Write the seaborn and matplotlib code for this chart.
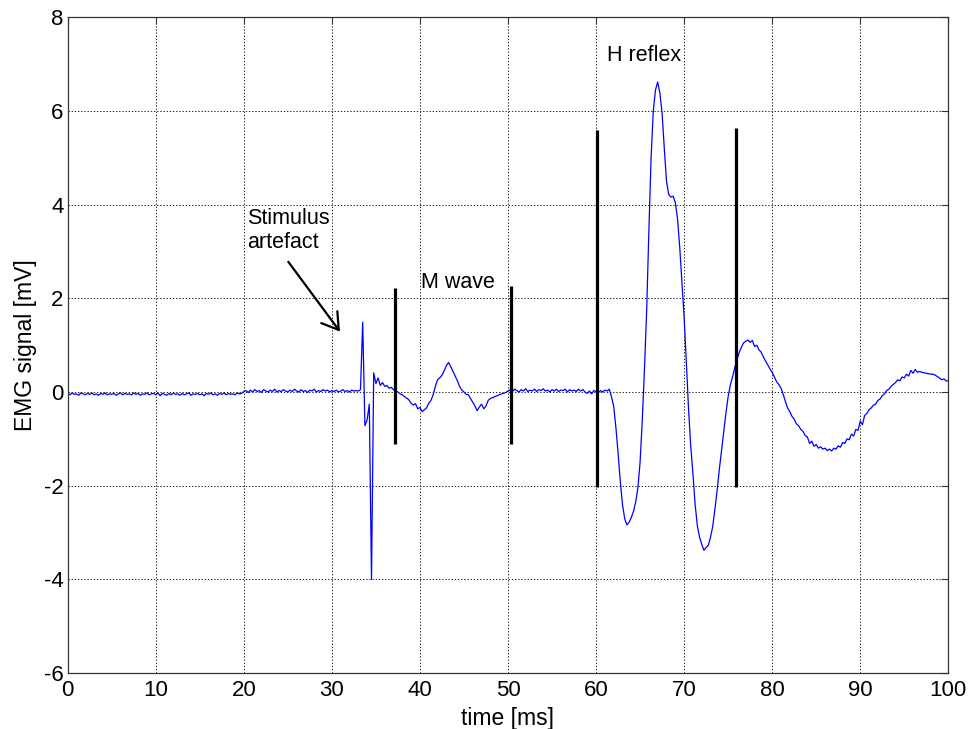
import numpy as np
import pandas as pd
import matplotlib
matplotlib.use("Agg")
import matplotlib.pyplot as plt
import seaborn as sns

emg_baseline_pre = [
    -0.03, -0.06, -0.02, -0.05, -0.04, -0.07, -0.02, -0.04, -0.06, -0.03, -0.05, -0.02, -0.06, -0.04, -0.07, -0.03, -0.05, -0.02, -0.06, -0.04,
    -0.05, -0.03, -0.07, -0.04, -0.02, -0.06, -0.03, -0.05, -0.04, -0.06, -0.02, -0.05, -0.03, -0.07, -0.04, -0.05, -0.02, -0.06, -0.04, -0.03,
    -0.06, -0.02, -0.08, -0.03, -0.05, -0.07, -0.03, -0.06, -0.02, -0.05, -0.04, -0.07, -0.03, -0.06, -0.04, -0.02, -0.07, -0.04, -0.05, -0.03,
    -0.06, -0.04, -0.08, -0.03, -0.05, -0.02, -0.06, -0.04, -0.07, -0.03, -0.05, -0.02, -0.06, -0.03, -0.05, -0.04, -0.06, -0.02, -0.04, -0.03,
    0.01, 0.03, -0.01, 0.04, 0.00, 0.05, 0.01, 0.03, -0.01, 0.05, 0.02, 0.00, 0.04, 0.01, 0.06, 0.00, 0.03, 0.01, 0.05, 0.02,
    0.00, 0.04, 0.01, 0.06, 0.02, 0.00, 0.05, 0.01, 0.03, -0.01, 0.04, 0.02, 0.06, 0.00, 0.03, 0.01, 0.05, 0.02, 0.04, 0.00,
    0.03, 0.01, 0.04, 0.00, 0.02, 0.05, 0.01, 0.03, 0.00, 0.04, 0.02, 0.03,
]
emg_artefact = [0.02, 0.05, 1.49, -0.72, -0.60, -0.26, -4.00, 0.41, 0.18, 0.30, 0.14, 0.20, 0.12, 0.14, 0.08, 0.10]
emg_m_wave = [
    0.05, 0.02, 0.00, -0.04, -0.06, -0.10, -0.13, -0.17, -0.24, -0.28, -0.25, -0.36, -0.33, -0.42, -0.38, -0.34, -0.24, -0.18, -0.06, 0.12,
    0.26, 0.30, 0.36, 0.45, 0.56, 0.63, 0.54, 0.44, 0.34, 0.24, 0.12, 0.04, 0.00, -0.05, -0.06, -0.14, -0.22, -0.30, -0.40, -0.32,
    -0.26, -0.36, -0.30, -0.18, -0.14, -0.12, -0.10, -0.08, -0.06, -0.04, -0.03, -0.01,
]
emg_baseline_mid = [
    0.02, 0.05, 0.01, 0.06, 0.03, 0.00, 0.05, 0.02, 0.07, 0.01, 0.04, 0.02, 0.06, 0.01, 0.05, 0.03, 0.07, 0.02, 0.04, 0.00,
    0.05, 0.02, 0.06, 0.01, 0.04, 0.03, 0.06, 0.00, 0.05, 0.02, 0.04, 0.01, 0.06, 0.02, 0.05, 0.00, -0.03, 0.02, -0.04, 0.03,
    0.01, -0.02, 0.03, 0.00, 0.04, 0.02,
]
emg_h_reflex = [
    0.06, -0.10, -0.30, -0.75, -1.30, -1.90, -2.40, -2.70, -2.84, -2.78, -2.68, -2.55, -2.35, -2.05,
    -1.50, -0.60, 0.50, 1.75, 3.45, 5.00, 6.00, 6.45, 6.62, 6.38, 5.95, 5.20, 4.50, 4.22, 4.16, 4.18, 4.05, 3.70, 3.10, 2.35,
    1.60, 0.65, -0.35, -1.15, -1.74, -2.40, -2.85, -3.10, -3.25, -3.38, -3.32, -3.27, -3.10, -2.87, -2.50, -2.10, -1.65, -1.25, -0.85, -0.45,
    -0.10, 0.15, 0.32, 0.52, 0.68, 0.84, 0.95, 1.05, 1.08, 1.11, 1.06, 1.10, 0.97, 1.00, 0.90, 0.85, 0.75, 0.66, 0.58, 0.49,
    0.42, 0.32, 0.22, 0.16,
]
emg_tail = [
    0.08, -0.05, -0.20, -0.34, -0.42, -0.52, -0.58, -0.68, -0.72, -0.80, -0.84, -0.93, -0.96, -1.10, -1.05, -1.16, -1.12, -1.20, -1.17, -1.22,
    -1.20, -1.25, -1.22, -1.26, -1.20, -1.22, -1.15, -1.18, -1.08, -1.10, -1.00, -1.02, -0.90, -0.94, -0.80, -0.82, -0.62, -0.70, -0.50, -0.46,
    -0.38, -0.34, -0.28, -0.26, -0.18, -0.15, -0.08, -0.04, 0.03, 0.06, 0.12, 0.16, 0.20, 0.26, 0.24, 0.32, 0.30, 0.38, 0.34, 0.46,
    0.40, 0.48, 0.42, 0.44, 0.42, 0.41, 0.40, 0.39, 0.38, 0.38, 0.36, 0.33, 0.30, 0.26, 0.28, 0.24, 0.23,
]

marker_times = [37.2, 50.3, 60.1, 75.9]
marker_bottoms = [-1.12, -1.11, -2.02, -2.02]
marker_tops = [2.21, 2.26, 5.59, 5.63]

x_ticks = [0, 10, 20, 30, 40, 50, 60, 70, 80, 90, 100]
y_ticks = [-6, -4, -2, 0, 2, 4, 6, 8]

emg_mv = np.array(emg_baseline_pre + emg_artefact + emg_m_wave + emg_baseline_mid + emg_h_reflex + emg_tail)
time_ms = np.linspace(0, 100, len(emg_mv))

# ---- plot ----
sns.set_theme(style="white")
plt.rcParams["font.family"] = ["Liberation Sans", "DejaVu Sans"]
plt.rcParams["axes.unicode_minus"] = False
plt.rcParams["text.color"] = "black"
plt.rcParams["axes.labelcolor"] = "black"

fig = plt.figure(figsize=(9.74, 7.29), dpi=100)
ax = fig.add_axes([0.0695, 0.0768, 0.9041, 0.8995])

df = pd.DataFrame({"time": time_ms, "emg": emg_mv})
sns.lineplot(data=df, x="time", y="emg", color="#0000ff", lw=0.9, ax=ax,
             estimator=None, errorbar=None)

ax.vlines(marker_times, marker_bottoms, marker_tops, colors="black", lw=2.3, zorder=3)

ax.set_xlim(0, 100)
ax.set_ylim(-6, 8)
ax.set_xticks(x_ticks)
ax.set_yticks(y_ticks)
ax.set_xticklabels([str(v) for v in x_ticks])
ax.set_yticklabels([str(v) for v in y_ticks])

ax.grid(True, color="black", linestyle=(0, (1.6, 2.2)), lw=0.6)
ax.set_axisbelow(True)
ax.tick_params(direction="in", length=5, width=0.8, top=True, right=True,
               labelsize=16, colors="#333333", labelcolor="black")
ax.tick_params(axis="x", pad=5)
ax.tick_params(axis="y", pad=3)
for s in ax.spines.values():
    s.set_color("#333333")
    s.set_linewidth(0.9)
    s.set_visible(True)

ax.set_xlabel("time [ms]", fontsize=16.5, labelpad=4, color="black")
ax.set_ylabel("EMG signal [mV]", fontsize=16.5, labelpad=5, color="black")

ann_fs = 15.5
ax.text(20.4, 3.58, "Stimulus", fontsize=ann_fs, va="baseline", ha="left", color="black")
ax.text(20.4, 3.07, "artefact", fontsize=ann_fs, va="baseline", ha="left", color="black")
ax.text(40.08, 2.21, "M wave", fontsize=ann_fs, va="baseline", ha="left", color="black")
ax.text(61.2, 7.07, "H reflex", fontsize=ann_fs, va="baseline", ha="left", color="black")
ax.annotate("", xy=(30.92, 1.29), xytext=(25.05, 2.78),
            arrowprops=dict(arrowstyle="->,head_length=0.57,head_width=0.36",
                            lw=1.6, color="black", mutation_scale=20,
                            shrinkA=0, shrinkB=0))

fig.savefig("out.png", dpi=100, facecolor="white")
